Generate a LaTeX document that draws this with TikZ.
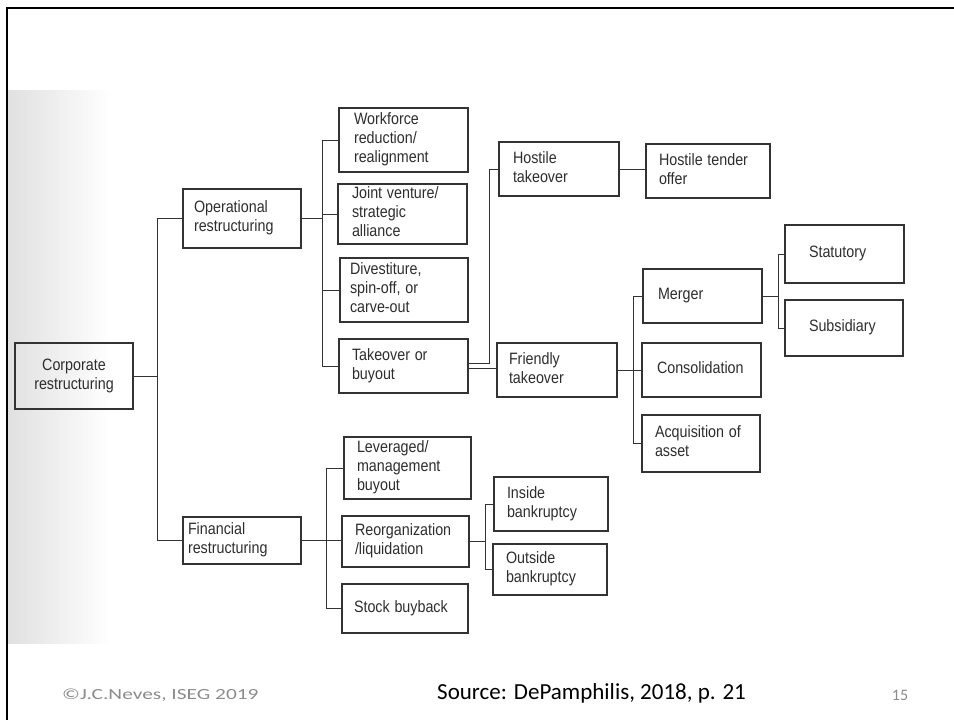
\documentclass[tikz,border=0pt]{standalone}
\usepackage{fontspec}
\usepackage{graphicx}
\setmainfont{Liberation Sans}
\newfontfamily\footfont{Carlito}
\usetikzlibrary{calc}
\definecolor{ink}{HTML}{333333}
\definecolor{txt}{HTML}{2E2E2E}
\definecolor{footgray}{HTML}{8C8C8C}
\tikzset{
  boxst/.style={draw=ink, line width=1.2pt, rectangle, inner ysep=0pt, align=left, text=txt,
    font=\fontsize{14.3}{16.5}\selectfont},
  conn/.style={draw=ink, line width=1pt},
}
\newcommand\bx[7]{%
  \pgfmathsetmacro\bxw{#4-#2}\pgfmathsetmacro\bxh{#5-#3}\pgfmathsetmacro\bxt{#4-#2-2*#6}%
  \pgfmathsetmacro\bxcx{(#2+#4)/2}\pgfmathsetmacro\bxcy{(#3+#5)/2}%
  \node[boxst, inner xsep=#6pt, text width=\bxt pt, minimum width=\bxw pt, minimum height=\bxh pt] (#1) at (\bxcx,\bxcy)
    {\scalebox{1}[1.15]{\begin{tabular}{@{}l@{}}#7\end{tabular}}};}
\begin{document}
\begin{tikzpicture}[x=1pt,y=-1pt]
\useasboundingbox (0,0) rectangle (954,720);
\fill[white] (0,0) rectangle (954,720);
\shade[left color=black!12, right color=white] (8,90) rectangle (110,643);
\draw[line width=2.2pt, black] (7,720) -- (7,8) -- (954,8);

\node[boxst, align=center, minimum width=118pt, minimum height=66pt, inner xsep=0pt] (corp) at (74,376)
  {\scalebox{1}[1.15]{\begin{tabular}{@{}c@{}}Corporate\\restructuring\end{tabular}}};

\bx{op}{183}{189}{301}{248}{11}{Operational\\restructuring}
\bx{fin}{183}{517}{301}{564}{5}{Financial\\restructuring}

\bx{wf}{339}{108}{468}{172}{15}{Workforce\\reduction/\\realignment}
\bx{jv}{338}{184}{467}{244}{14}{Joint venture/\\strategic\\alliance}
\bx{dv}{340}{258}{468}{322}{10}{Divestiture,\\spin-off, or\\carve-out}
\bx{tk}{339}{339}{468}{393}{13}{Takeover or\\buyout}

\bx{lev}{344}{437}{471}{499}{13}{Leveraged/\\management\\buyout}
\bx{reo}{342}{516}{469}{567}{13}{Reorganization\\/liquidation}
\bx{stk}{342}{584}{468}{633}{12}{Stock buyback}

\bx{host}{499}{142}{619}{196}{14}{Hostile\\takeover}
\bx{hto}{646}{144}{770}{198}{13}{Hostile tender\\offer}
\bx{fr}{497}{343}{617}{397}{12}{Friendly\\takeover}

\bx{mer}{643}{269}{762}{323}{15}{Merger}
\bx{con}{642}{343}{761}{397}{15}{Consolidation}
\bx{acq}{642}{415}{760}{472}{13}{Acquisition of\\asset}

\bx{stat}{785}{225}{904}{283}{24}{Statutory}
\bx{sub}{785}{300}{903}{356}{24}{Subsidiary}

\bx{ins}{494}{477}{608}{531}{13}{Inside\\bankruptcy}
\bx{out}{493}{544}{607}{595}{13}{Outside\\bankruptcy}

% connectors
\coordinate (j1) at ($(corp.east)+(24,0)$);
\draw[conn] (corp.east) -- (j1);
\draw[conn] (op.west) -| (j1);
\draw[conn] (fin.west) -| (j1);

\coordinate (j2) at ($(op.east)+(21,0)$);
\draw[conn] (op.east) -- (j2);
\draw[conn] (wf.west) -| (j2);
\draw[conn] (tk.west) -| (j2);
\draw[conn] (jv.west) -- (jv.west -| j2);
\draw[conn] (dv.west) -- (dv.west -| j2);

\draw[conn] ([yshift=2.5pt]tk.east) -- ++(21,0) |- (host.west);
\draw[conn] ([yshift=-2pt]tk.east) -- ([yshift=-2pt]tk.east -| fr.west);
\draw[conn] (host.east) -- (host.east -| hto.west);

\coordinate (j3) at ($(fr.east)+(16,0)$);
\draw[conn] (fr.east) -- (fr.east -| con.west);
\draw[conn] (mer.west) -| (j3);
\draw[conn] (acq.west) -| (j3);

\coordinate (j4) at ($(mer.east)+(16,0)$);
\draw[conn] (mer.east) -- (j4);
\draw[conn] (stat.west) -| (j4);
\draw[conn] (sub.west) -| (j4);

\coordinate (j5) at ($(fin.east)+(25,0)$);
\draw[conn] (fin.east) -- (fin.east -| reo.west);
\draw[conn] (lev.west) -| (j5);
\draw[conn] (stk.west) -| (j5);

\coordinate (j6) at ($(reo.east)+(16,0)$);
\draw[conn] (reo.east) -- (j6);
\draw[conn] (ins.west) -| (j6);
\draw[conn] (out.west) -| (j6);

% footer
\node[font=\footfont\fontsize{15.5}{17}\selectfont, text=footgray, anchor=west, inner sep=0pt] (cr) at (62,695)
  {\scalebox{1.38}[1]{©J.C.Neves, ISEG 2019}};
\node[font=\footfont\fontsize{23}{26}\selectfont, text=black, anchor=west, inner sep=0pt] (src) at (437,693) {Source: DePamphilis, 2018, p. 21};
\node[font=\footfont\fontsize{16}{18}\selectfont, text=footgray, inner sep=0pt] (pg) at (900,695) {15};
\end{tikzpicture}
\end{document}
